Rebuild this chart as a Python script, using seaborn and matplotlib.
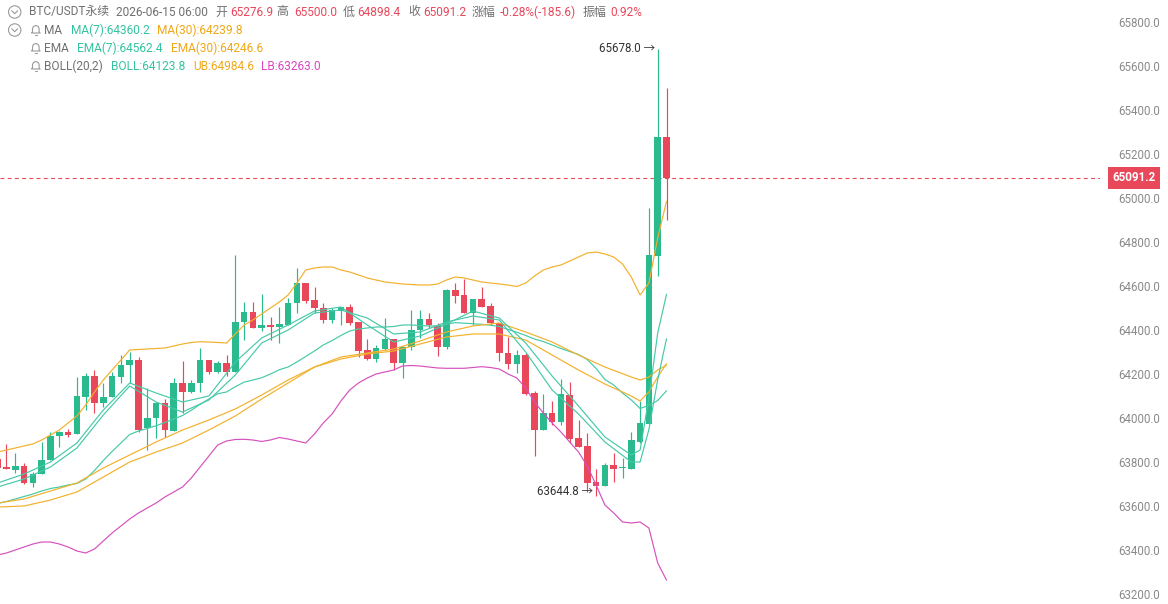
import numpy as np
import pandas as pd
import matplotlib
matplotlib.use("Agg")
import matplotlib.pyplot as plt
import matplotlib.transforms as mtransforms
from matplotlib.patches import Circle, Polygon
import seaborn as sns

# ---------------- data ----------------
open_ = [63813.6, 63775.0, 63763.6, 63781.8, 63704.5, 63744.1, 63809.1, 63918.2, 63935.0, 63925.9,
         64096.8, 64190.9, 64069.5, 64094.1, 64187.7, 64240.9, 64263.6, 63955.9, 63998.6, 64066.8,
         63942.3, 64157.7, 64119.5, 64157.7, 64263.6, 64210.4, 64248.6, 64210.4, 64437.7, 64483.2,
         64410.4, 64422.7, 64415.0, 64422.7, 64521.3, 64615.0, 64536.3, 64498.6, 64445.4, 64487.7,
         64503.2, 64437.7, 64309.0, 64266.8, 64313.6, 64359.1, 64251.4, 64324.1, 64400.0, 64448.6,
         64418.2, 64321.3, 64581.8, 64559.1, 64478.6, 64539.5, 64509.1, 64433.2, 64294.1, 64245.4,
         64286.3, 64112.3, 63946.8, 64021.3, 63983.2, 64104.5, 63907.7, 63872.7, 63707.7, 63691.8,
         63785.4, 63770.9, 63769.1, 63892.3, 63974.1, 64738.6, 65276.9]
high = [63831.8, 63881.8, 63840.9, 63796.8, 63755.9, 63892.3, 63937.7, 63940.9, 63948.6, 64187.7,
        64203.1, 64218.2, 64160.4, 64210.4, 64286.3, 64301.4, 64279.5, 64135.0, 64069.5, 64088.6,
        64180.4, 64260.4, 64172.7, 64316.8, 64263.6, 64260.4, 64286.3, 64740.9, 64528.6, 64528.6,
        64563.6, 64460.4, 64505.9, 64544.1, 64680.4, 64615.0, 64596.8, 64521.3, 64500.0, 64505.9,
        64518.2, 64437.7, 64357.7, 64331.8, 64453.2, 64359.1, 64327.3, 64490.9, 64490.9, 64478.6,
        64430.4, 64586.4, 64612.3, 64630.4, 64539.5, 64596.8, 64521.3, 64433.2, 64369.5, 64309.0,
        64295.4, 64122.7, 64109.1, 64075.9, 64178.2, 64162.7, 63992.7, 63933.2, 63766.8, 63795.4,
        63842.3, 63818.2, 63937.7, 64075.9, 64953.2, 65678.0, 65500.0]
low = [63763.6, 63765.9, 63750.0, 63700.0, 63687.7, 63744.1, 63809.1, 63868.2, 63915.0, 63925.9,
       64036.3, 64024.1, 64051.3, 64094.1, 64157.7, 64160.4, 63937.7, 63854.5, 63907.7, 63915.0,
       63942.3, 64021.3, 64112.3, 64119.5, 64200.0, 64203.1, 64190.9, 64210.4, 64354.5, 64407.7,
       64396.8, 64354.5, 64339.5, 64422.7, 64475.9, 64521.3, 64475.9, 64430.4, 64430.4, 64422.7,
       64422.7, 64278.6, 64263.6, 64255.9, 64309.0, 64218.2, 64180.4, 64309.0, 64362.3, 64407.7,
       64281.8, 64312.3, 64521.3, 64478.6, 64422.7, 64503.2, 64422.7, 64260.4, 64222.7, 64204.5,
       64104.5, 63827.3, 63945.4, 63968.2, 63968.2, 63885.0, 63869.5, 63665.0, 63644.8, 63691.8,
       63710.4, 63725.9, 63769.1, 63885.0, 63974.1, 64645.4, 64898.4]
close = [63772.7, 63768.2, 63781.8, 63704.5, 63745.4, 63809.1, 63918.2, 63935.0, 63924.1, 64100.0,
         64190.9, 64069.5, 64094.1, 64190.9, 64240.9, 64263.6, 63945.4, 63998.6, 64069.5, 63943.2,
         64157.7, 64119.5, 64157.7, 64263.6, 64210.4, 64248.6, 64210.4, 64437.7, 64483.2, 64407.7,
         64422.7, 64415.0, 64427.3, 64521.3, 64615.0, 64533.2, 64498.6, 64445.4, 64490.9, 64503.2,
         64433.2, 64304.5, 64266.8, 64316.8, 64359.1, 64251.4, 64324.1, 64400.0, 64448.6, 64422.7,
         64321.3, 64581.8, 64554.5, 64478.6, 64539.5, 64505.9, 64430.4, 64294.1, 64245.4, 64286.3,
         64109.1, 63946.8, 64021.3, 63983.2, 64106.8, 63905.9, 63869.5, 63705.9, 63691.8, 63786.3,
         63770.4, 63777.3, 63900.0, 63977.3, 64740.9, 65276.9, 65091.2]

boll_ub = [63845.4, 63854.5, 63863.6, 63872.7, 63881.8, 63900.0, 63922.7, 63945.4, 63977.3, 64009.1,
           64059.1, 64118.2, 64172.7, 64218.2, 64263.6, 64309.1, 64311.3, 64313.6, 64315.9, 64318.2,
           64327.3, 64336.3, 64343.2, 64346.8, 64345.4, 64343.2, 64340.9, 64381.8, 64422.7, 64445.4,
           64472.7, 64500.0, 64527.3, 64559.1, 64613.6, 64672.7, 64681.8, 64686.4, 64686.4, 64672.7,
           64663.6, 64650.0, 64636.4, 64627.3, 64618.2, 64613.6, 64609.1, 64606.8, 64604.5, 64604.5,
           64609.1, 64627.3, 64640.9, 64636.4, 64627.3, 64618.2, 64613.6, 64609.1, 64604.5, 64597.7,
           64613.6, 64645.4, 64672.7, 64686.4, 64695.4, 64713.6, 64731.8, 64750.0, 64754.5, 64745.4,
           64731.8, 64700.0, 64640.9, 64559.1, 64613.6, 64818.2, 64984.6]
boll_lb = [63377.2, 63386.3, 63400.0, 63413.6, 63427.2, 63436.3, 63436.3, 63427.2, 63413.6, 63395.4,
           63386.3, 63404.5, 63440.9, 63477.2, 63509.1, 63540.9, 63568.2, 63590.9, 63613.6, 63640.9,
           63663.6, 63686.3, 63727.3, 63777.3, 63827.3, 63877.3, 63895.4, 63902.3, 63903.1, 63900.0,
           63893.2, 63900.0, 63911.3, 63904.5, 63895.4, 63886.3, 63927.3, 63977.3, 64018.2, 64077.3,
           64127.3, 64159.1, 64181.8, 64200.0, 64209.1, 64218.2, 64236.3, 64238.6, 64236.3, 64231.8,
           64227.3, 64225.9, 64225.9, 64225.9, 64229.5, 64233.2, 64229.5, 64222.7, 64200.0, 64181.8,
           64136.3, 64072.7, 64022.7, 63977.3, 63936.3, 63890.9, 63845.4, 63781.8, 63695.4, 63604.5,
           63568.2, 63527.2, 63522.7, 63527.2, 63500.0, 63340.9, 63263.0]
boll_mid = [63611.3, 63620.4, 63631.8, 63643.2, 63654.5, 63668.2, 63679.5, 63686.3, 63695.4, 63702.3,
            63722.7, 63761.3, 63806.8, 63847.7, 63886.3, 63925.0, 63940.9, 63952.3, 63964.8, 63979.5,
            63995.4, 64011.3, 64035.2, 64062.0, 64086.3, 64110.2, 64118.2, 64142.0, 64162.9, 64172.7,
            64182.9, 64200.0, 64219.3, 64231.8, 64254.5, 64279.5, 64304.5, 64331.8, 64352.3, 64375.0,
            64395.4, 64404.5, 64409.1, 64413.6, 64413.6, 64415.9, 64422.7, 64422.7, 64420.4, 64418.2,
            64418.2, 64426.6, 64433.4, 64431.1, 64428.4, 64425.7, 64421.6, 64415.9, 64402.3, 64389.8,
            64375.0, 64359.1, 64347.7, 64331.8, 64315.9, 64302.3, 64288.6, 64265.9, 64225.0, 64175.0,
            64150.0, 64113.6, 64081.8, 64043.2, 64056.8, 64079.5, 64123.8]

# moving averages, read at every third candle and the last few
ma_idx = [0, 3, 6, 9, 12, 15, 18, 21, 24, 27, 30, 33, 36, 39, 42, 45, 48, 51, 54, 57,
          60, 63, 66, 69, 72, 73, 74, 75, 76]
ma7 = [63686.3, 63722.7, 63777.3, 63863.6, 64013.6, 64145.4, 64072.7, 64027.2, 64081.8, 64195.4,
       64340.9, 64400.0, 64477.2, 64490.9, 64454.5, 64381.8, 64390.9, 64436.3, 64463.6, 64445.4,
       64300.0, 64127.3, 64018.2, 63890.9, 63800.0, 63800.0, 63947.7, 64174.1, 64360.2]
ema7 = [63704.5, 63745.4, 63800.0, 63886.3, 64036.3, 64159.1, 64113.6, 64072.7, 64100.0, 64254.5,
        64363.6, 64422.7, 64486.3, 64504.5, 64422.7, 64345.4, 64372.7, 64427.3, 64486.3, 64454.5,
        64340.9, 64190.9, 64054.5, 63913.6, 63831.8, 63854.5, 64090.9, 64386.3, 64562.4]
ma30 = [63613.6, 63631.8, 63668.2, 63704.5, 63772.7, 63831.8, 63890.9, 63945.4, 63990.9, 64040.9,
        64104.5, 64172.7, 64231.8, 64277.3, 64295.4, 64313.6, 64350.0, 64390.9, 64418.2, 64431.8,
        64390.9, 64345.4, 64286.3, 64231.8, 64186.3, 64172.7, 64186.3, 64218.2, 64239.8]
ema30 = [63595.4, 63600.0, 63627.2, 63663.6, 63731.8, 63800.0, 63845.4, 63886.3, 63945.4, 64009.1,
         64086.3, 64159.1, 64231.8, 64268.2, 64290.9, 64304.5, 64336.3, 64368.2, 64381.8, 64381.8,
         64354.5, 64286.3, 64218.2, 64154.5, 64100.0, 64077.3, 64118.2, 64186.3, 64246.6]

y_ticks = [63200, 63400, 63600, 63800, 64000, 64200, 64400, 64600, 64800, 65000, 65200, 65400, 65600, 65800]

# ---------------- style ----------------
GREEN = '#2bb98e'
RED = '#e9485b'
TEAL = '#45c9a8'
ORANGE = '#f2b02a'
MAGENTA = '#d650bd'
GRAY = '#707070'

sns.set_theme(style="white")
plt.rcParams['font.family'] = ['Roboto', 'Noto Sans CJK SC', 'DejaVu Sans']

W, H = 1168, 604
fig = plt.figure(figsize=(W / 100, H / 100), dpi=100)
fig.patch.set_facecolor('white')
ax = fig.add_axes([0, 0, 1100 / W, 1])
ax.set_facecolor('white')

idx = np.arange(len(close))
o = np.array(open_); c = np.array(close); hi = np.array(high); lo = np.array(low)
up = c > o
cols = np.where(up, GREEN, RED)

# wicks and bodies
ax.vlines(idx, lo, hi, colors=cols, lw=0.85, zorder=3)
ax.bar(idx, np.maximum(np.abs(c - o), 5.0), bottom=np.minimum(o, c), width=0.74,
       color=cols, edgecolor='none', zorder=4)

# indicator lines via seaborn
def draw(xv, yv, color, lw=0.85):
    sns.lineplot(x=list(xv), y=list(yv), ax=ax, color=color, lw=lw,
                 estimator=None, sort=False, zorder=5)

draw(idx, boll_ub, ORANGE)
draw(idx, boll_lb, MAGENTA)
draw(idx, boll_mid, TEAL)
draw(ma_idx, ma30, ORANGE)
draw(ma_idx, ema30, ORANGE)
draw(ma_idx, ma7, TEAL)
draw(ma_idx, ema7, TEAL)

# last price dashed line
ax.axhline(close[-1], color=RED, lw=0.8, ls=(0, (3.5, 3)), zorder=2)

ax.set_xlim(0.2614, 125.261)
ax.set_ylim(63154.5, 65900)
ax.yaxis.tick_right()
ax.set_yticks(y_ticks)
ax.set_yticklabels([f"{v:.1f}" for v in y_ticks])
ax.tick_params(axis='y', length=0, pad=13, labelsize=8.3, labelcolor='#8a8a8a')
ax.set_xticks([])
ax.set_xlabel(''); ax.set_ylabel('')
for s in ax.spines.values():
    s.set_visible(False)
ax.grid(False)

# high / low markers
i_hi = int(np.argmax(hi)); i_lo = int(np.argmin(lo))
ax.annotate(f"{hi[i_hi]:.1f} \u2192", xy=(i_hi, hi[i_hi]), xytext=(-1.5, 0),
            textcoords='offset points', ha='right', va='center', fontsize=8.3,
            color='#333333', zorder=6)
ax.annotate(f"{lo[i_lo]:.1f} \u2192", xy=(i_lo, lo[i_lo]), xytext=(-2.5, 3),
            textcoords='offset points', ha='right', va='center', fontsize=8.3,
            color='#333333', zorder=6)

# ---------------- overlay (pixel coords) ----------------
ov = fig.add_axes([0, 0, 1, 1], zorder=10)
ov.set_xlim(0, W); ov.set_ylim(H, 0)
ov.axis('off'); ov.patch.set_alpha(0)

# current price box
trans = mtransforms.blended_transform_factory(ov.transData, ax.transData)
ov.text(1134, close[-1], f"{close[-1]:.1f}", transform=trans, ha='center', va='center',
        fontsize=8.4, fontweight='bold', color='white',
        bbox=dict(boxstyle='square,pad=0.35', fc=RED, ec='none'))

def chevron_circle(cx, cy):
    ov.add_patch(Circle((cx, cy), 6.2, fill=False, ec='#9a9a9a', lw=0.8))
    ov.plot([cx - 3, cx, cx + 3], [cy - 1.3, cy + 1.7, cy - 1.3], color='#9a9a9a', lw=0.8)

def bell(cx, cy):
    pts = [(-4.5, 3.0), (-3.3, 1.8), (-3.3, -1.5), (-2.3, -3.6), (0, -4.5), (2.3, -3.6),
           (3.3, -1.5), (3.3, 1.8), (4.5, 3.0)]
    ov.add_patch(Polygon([(cx + dx, cy + dy) for dx, dy in pts], closed=True, fill=False,
                         ec='#9a9a9a', lw=0.8))
    ov.plot([cx - 1.3, cx + 1.3], [cy + 4.6, cy + 4.6], color='#9a9a9a', lw=0.8)

chevron_circle(14.7, 12)
chevron_circle(14.7, 30)
for yy in (30, 48, 66):
    bell(35.8, yy)

FS = 8.6
header = [
    (12, [(29.5, "BTC/USDT永续", GRAY), (115.7, "2026-06-15 06:00", GRAY),
          (215.5, "开", GRAY), (230, f"{open_[-1]:.1f}", RED),
          (276.5, "高", GRAY), (294.6, f"{high[-1]:.1f}", RED),
          (343, "低", GRAY), (357.7, f"{low[-1]:.1f}", RED),
          (408, "收", GRAY), (423, f"{close[-1]:.1f}", RED),
          (472, "涨幅", GRAY), (500, "-0.28%(-185.6)", RED),
          (583, "振幅", GRAY), (610, "0.92%", RED)]),
    (30, [(44, "MA", GRAY), (70.7, f"MA(7):{ma7[-1]:.1f}", '#34c3a0'),
          (157, f"MA(30):{ma30[-1]:.1f}", '#f0a818')]),
    (48, [(44, "EMA", GRAY), (77, f"EMA(7):{ema7[-1]:.1f}", '#34c3a0'),
          (170.5, f"EMA(30):{ema30[-1]:.1f}", '#f0a818')]),
    (66, [(44, "BOLL(20,2)", GRAY), (111.5, f"BOLL:{boll_mid[-1]:.1f}", '#34c3a0'),
          (192.8, f"UB:{boll_ub[-1]:.1f}", '#f0a818'),
          (261, f"LB:{boll_lb[-1]:.1f}", '#d946c2')]),
]
for yy, items in header:
    for xx, txt, col in items:
        ov.text(xx, yy, txt, ha='left', va='center', fontsize=FS, color=col,
                family=['Roboto', 'Noto Sans CJK SC', 'DejaVu Sans'])

fig.savefig("out.png", dpi=100, facecolor='white')
